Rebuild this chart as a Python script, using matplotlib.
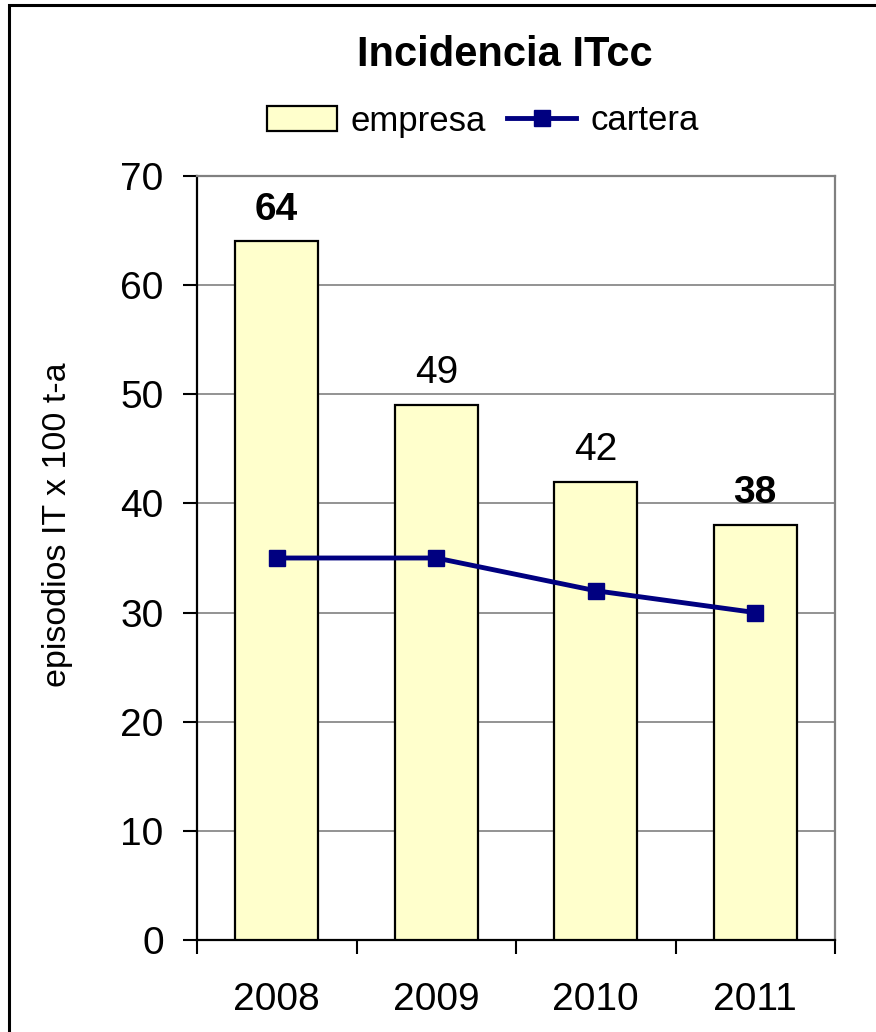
import matplotlib
matplotlib.use('Agg')
import matplotlib.pyplot as plt
import matplotlib.patches as patches
import numpy as np

plt.rcParams['font.family'] = ['Liberation Sans', 'DejaVu Sans']

years = ['2008', '2009', '2010', '2011']
empresa = [64, 49, 42, 38]
cartera = [35, 35, 32, 30]
bold_labels = [True, False, False, True]
yticks = [0, 10, 20, 30, 40, 50, 60, 70]

fig = plt.figure(figsize=(8.76, 10.32), dpi=100)
ax = fig.add_axes([197/876, 92/1032, 638/876, 764/1032])

x = np.arange(len(years))
bar_h = ax.bar(x, empresa, width=0.52, color='#FFFFCC', edgecolor='black',
               linewidth=1.6, zorder=3, label='empresa')
line_h, = ax.plot(x, cartera, color='#000080', lw=3.5, marker='s',
                  markersize=11, zorder=4, label='cartera')

for xi, v, b in zip(x, empresa, bold_labels):
    ax.annotate(str(v), (xi, v), xytext=(0, 10), textcoords='offset points',
                ha='center', va='bottom', fontsize=28,
                fontweight='bold' if b else 'normal')

ax.set_xlim(-0.5, len(years) - 0.5)
ax.set_ylim(0, 70)
ax.set_yticks(yticks)
ax.yaxis.grid(True, color='#808080', lw=1.2, zorder=0)
ax.set_axisbelow(True)

# ticks between categories, labels centred on them
ax.set_xticks(np.arange(len(years) + 1) - 0.5)
ax.set_xticklabels([])
ax.set_xticks(x, minor=True)
ax.set_xticklabels(years, minor=True)
ax.tick_params(axis='x', which='major', direction='out', length=10, width=1.5)
ax.tick_params(axis='x', which='minor', length=0, pad=30, labelsize=28)
ax.tick_params(axis='y', direction='out', length=10, width=1.5, pad=14,
               labelsize=28)

for s in ['left', 'bottom']:
    ax.spines[s].set_color('black')
    ax.spines[s].set_linewidth(1.6)
for s in ['top', 'right']:
    ax.spines[s].set_color('#808080')
    ax.spines[s].set_linewidth(1.6)

fig.text(58/876, 1 - 525/1032, 'episodios IT x 100 t-a', rotation=90,
         ha='center', va='center', fontsize=24.5)
fig.text(505/876, 1 - 55/1032, 'Incidencia ITcc', ha='center', va='center',
         fontsize=30, fontweight='bold')

fig.legend([bar_h, line_h], ['empresa', 'cartera'], loc='center',
           bbox_to_anchor=(483/876, 1 - 121/1032), ncol=2,
           frameon=False, fontsize=25, handlelength=2.0, handletextpad=0.4,
           columnspacing=0.6, borderaxespad=0)

# outer chart border (right and bottom run off the picture)
fig.patches.append(patches.Rectangle((9/876, -0.05), 1.1, 1 - 5/1032 + 0.05,
                                     transform=fig.transFigure, fill=False,
                                     edgecolor='black', lw=2.2))

fig.savefig('out.png', dpi=100)
